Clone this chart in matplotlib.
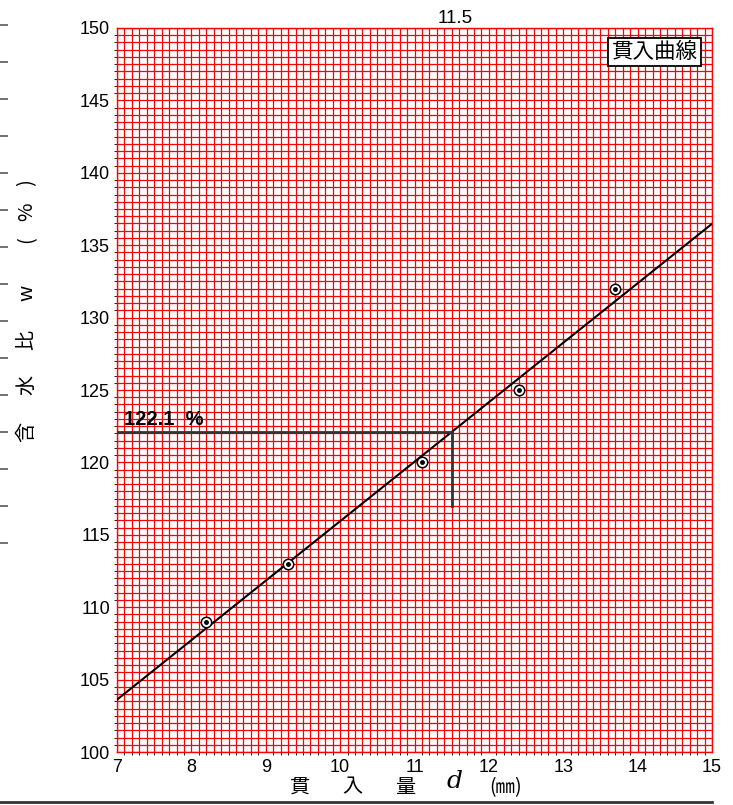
import matplotlib
matplotlib.use("Agg")
from matplotlib import pyplot as plt
from matplotlib.lines import Line2D
from matplotlib.ticker import MultipleLocator
import numpy as np

# penetration test points
d_mm = [8.2, 9.3, 11.1, 12.4, 13.7]
w_pct = [109, 113, 120, 125, 132]
d_read = 11.5
w_read = 122.1
w_read_low = 117
xticks = [7, 8, 9, 10, 11, 12, 13, 14, 15]
yticks = [100, 105, 110, 115, 120, 125, 130, 135, 140, 145, 150]

CJK = ['Noto Sans CJK JP', 'DejaVu Sans']
NUM = 'Liberation Sans'

W, H = 733, 805
fig = plt.figure(figsize=(W / 100, H / 100), dpi=100)

def px(x, y):
    return x / W, 1 - y / H

ax = fig.add_axes([117 / W, 1 - 752 / H, 595 / W, 724 / H])
ax.set_xlim(7, 15)
ax.set_ylim(100, 150)
ax.set_xticks(xticks)
ax.set_yticks(yticks)
ax.set_xticklabels([str(v) for v in xticks], fontfamily=NUM, fontsize=13)
ax.set_yticklabels([str(v) for v in yticks], fontfamily=NUM, fontsize=13)
ax.tick_params(length=0, pad=5)
ax.tick_params(axis='x', pad=5)
ax.xaxis.set_minor_locator(MultipleLocator(0.1))
ax.yaxis.set_minor_locator(MultipleLocator(0.5))
ax.grid(which='both', color='red', lw=0.9)
ax.set_axisbelow(True)
for s in ax.spines.values():
    s.set_color('red')
    s.set_linewidth(1.0)

# fitted line
k, b = np.polyfit(d_mm, w_pct, 1)
xx = np.array([7, 15])
ax.plot(xx, k * xx + b, color='black', lw=1.5, zorder=3)

ax.plot(d_mm, w_pct, 'o', ms=7.5, mfc='white', mec='black', mew=1.1, zorder=4)
ax.plot(d_mm, w_pct, 'o', ms=2.5, color='black', zorder=5)

# read-off lines
ax.plot([7, d_read], [w_read, w_read], color='#333333', lw=2, zorder=3)
ax.plot([d_read, d_read], [w_read_low, w_read], color='#333333', lw=2, zorder=3)
ax.text(7.1, w_read + 0.2, '122.1  %', fontfamily=NUM, fontweight='bold',
        fontsize=14.5, va='bottom', ha='left', zorder=5)
ax.text(d_read + 0.05, 150.05, '11.5', fontfamily=NUM, fontsize=13.5, ha='center', va='bottom')

ax.text(0.976, 0.982, '貫入曲線', transform=ax.transAxes, ha='right', va='top',
        fontfamily=CJK, fontsize=15.5, zorder=6,
        bbox=dict(boxstyle='square,pad=0.15', fc='white', ec='black', lw=1.3))

# y label, one glyph at a time
for ch, y in zip(['含', '水', '比', 'w', '(', '%', ')'], [432, 385, 340, 293, 240, 212, 183]):
    fig.text(*px(27, y), ch, rotation=90, ha='center', va='center',
             fontfamily=CJK, fontsize=14.5)

# x label
for ch, x in zip(['貫', '入', '量'], [300, 352, 405]):
    fig.text(*px(x, 787), ch, ha='center', va='center', fontfamily=CJK, fontsize=14.5)
fig.text(*px(455, 781), 'd', ha='center', va='center', fontfamily='DejaVu Serif',
         style='italic', fontsize=18)
fig.text(*px(506, 788), '(㎜)', ha='center', va='center', fontfamily=CJK, fontsize=14)

# leftover tick column at the left edge
axl = fig.add_axes([0, 1 - 543 / H, 0.001, 518 / H])
axl.set_ylim(0, 14)
axl.set_yticks(range(15))
axl.set_yticklabels([])
axl.set_xticks([])
axl.tick_params(axis='y', direction='in', length=6, width=1.3, color='#666666')
for s in axl.spines.values():
    s.set_visible(False)

fig.add_artist(Line2D([0, 712 / W], [1 - 802 / H] * 2, color='#333333', lw=2))

fig.savefig('out.png', dpi=100)
